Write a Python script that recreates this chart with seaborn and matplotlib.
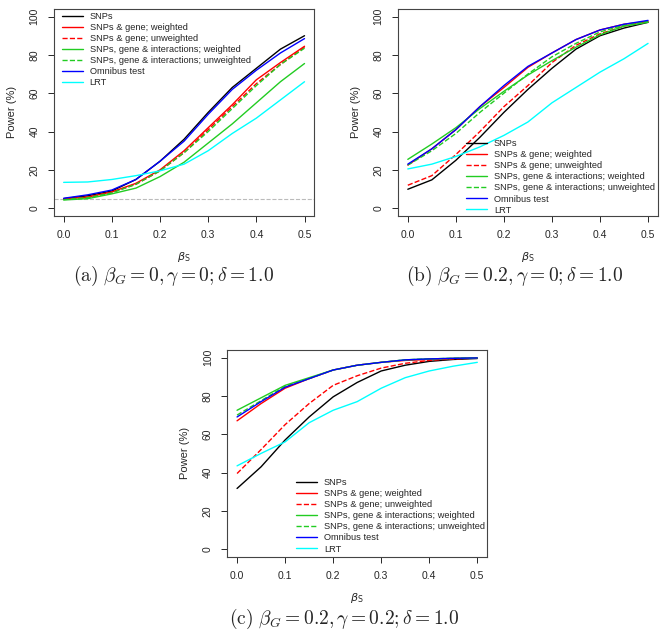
import matplotlib
matplotlib.use("Agg")
import matplotlib.pyplot as plt
import seaborn as sns
import pandas as pd

# effect size of the SNPs
beta_s = [0.0, 0.05, 0.1, 0.15, 0.2, 0.25, 0.3, 0.35, 0.4, 0.45, 0.5]

methods = ['SNPs', 'SNPs & gene; weighted', 'SNPs & gene; unweighted',
           'SNPs, gene & interactions; weighted',
           'SNPs, gene & interactions; unweighted',
           'Omnibus test', 'LRT']
colors = ['black', 'red', 'red', '#22cc22', '#22cc22', 'blue', 'cyan']
styles = ['-', '-', '--', '-', '--', '-', '-']

# panel (a): beta_G = 0, gamma = 0
power_a = {
    'SNPs': [5, 6.5, 9, 15, 24.5, 36, 50, 63, 73, 83, 90],
    'SNPs & gene; weighted': [4.8, 5.8, 8.5, 13, 20, 30, 42, 54, 67, 76, 84.5],
    'SNPs & gene; unweighted': [4.7, 5.7, 8.3, 12.5, 19.5, 29, 41, 53, 65, 75, 84],
    'SNPs, gene & interactions; weighted': [4.3, 5, 7.5, 10.5, 16.5, 24, 34, 44, 55, 66, 75.5],
    'SNPs, gene & interactions; unweighted': [4.5, 5.5, 8, 12.5, 19.5, 29, 40, 52, 64, 75, 83.5],
    'Omnibus test': [5.2, 7, 9.5, 15, 24.5, 35, 49, 62, 72, 81, 88.5],
    'LRT': [13.5, 13.7, 15, 17, 19.5, 23, 30, 39, 47, 56.5, 66],
}

# panel (b): beta_G = 0.2, gamma = 0
power_b = {
    'SNPs': [9.9, 14.8, 25, 37, 50, 62, 73, 83, 90, 94, 97],
    'SNPs & gene; weighted': [22.5, 31, 41, 53, 63, 73.5, 81, 88, 93, 96, 97.5],
    'SNPs & gene; unweighted': [12, 17, 28, 40, 53, 64, 76, 85, 91, 95, 97.5],
    'SNPs, gene & interactions; weighted': [25.5, 33.5, 42, 52, 61, 69.5, 77, 84, 90.5, 95, 97],
    'SNPs, gene & interactions; unweighted': [22.5, 30, 39, 50, 60, 70, 79, 86, 92, 95.5, 97.5],
    'Omnibus test': [23, 31, 41, 53, 64, 74, 81, 88, 93, 96, 98],
    'LRT': [20.5, 23, 27, 32, 38, 45, 55, 63, 71, 78, 86],
}

# panel (c): beta_G = 0.2, gamma = 0.2
power_c = {
    'SNPs': [31.7, 43, 57, 69, 79.5, 87, 93, 96, 98, 99, 99.5],
    'SNPs & gene; weighted': [67, 76, 84, 89, 93.5, 96, 97.5, 98.5, 99, 99.5, 99.7],
    'SNPs & gene; unweighted': [39.5, 52, 65, 76, 85.5, 90.5, 94.5, 97, 98.5, 99.3, 99.7],
    'SNPs, gene & interactions; weighted': [72.5, 79, 85.5, 89.5, 93.5, 96, 97.5, 98.8, 99.3, 99.6, 99.8],
    'SNPs, gene & interactions; unweighted': [70, 77.5, 85, 89, 93.5, 96, 97.5, 98.8, 99.3, 99.6, 99.8],
    'Omnibus test': [69, 77, 84.5, 89, 93.5, 96, 97.5, 98.8, 99.3, 99.6, 99.8],
    'LRT': [43.5, 50, 56, 66, 72.5, 77, 84, 89.5, 93, 95.5, 97.5],
}

captions = [r'$\mathrm{(a)}\ \beta_G = 0, \gamma = 0; \delta = 1.0$',
            r'$\mathrm{(b)}\ \beta_G = 0.2, \gamma = 0; \delta = 1.0$',
            r'$\mathrm{(c)}\ \beta_G = 0.2, \gamma = 0.2; \delta = 1.0$']

sns.set_style('ticks')
plt.rcParams['font.family'] = ['Liberation Sans', 'DejaVu Sans']
plt.rcParams['mathtext.fontset'] = 'dejavusans'

fig = plt.figure(figsize=(6.67, 6.35), dpi=100)

# axes boxes in figure fractions
boxes = [[0.081, 0.660, 0.390, 0.326],
         [0.597, 0.660, 0.389, 0.326],
         [0.341, 0.123, 0.389, 0.326]]
legend_pos = [(0.031, 0.985), (0.263, 0.37), (0.266, 0.38)]
caption_pos = [(174 / 667, 1 - 276 / 635), (515 / 667, 1 - 276 / 635), (344 / 667, 1 - 619 / 635)]

for i, power in enumerate([power_a, power_b, power_c]):
    ax = fig.add_axes(boxes[i])
    rows = []
    for m in methods:
        for x, y in zip(beta_s, power[m]):
            rows.append({'beta': x, 'power': y, 'method': m})
    df = pd.DataFrame(rows)
    for m, c, ls in zip(methods, colors, styles):
        sns.lineplot(x='beta', y='power', data=df[df['method'] == m], color=c,
                     linestyle=ls, lw=1.0, label=m, ax=ax)
    if i == 0:
        ax.axhline(5, color='#bbbbbb', lw=0.8, ls='--', zorder=0)

    ax.set_xlim(-0.02, 0.52)
    ax.set_ylim(-4, 104)
    ax.set_xticks([0.0, 0.1, 0.2, 0.3, 0.4, 0.5])
    ax.set_xticklabels(['0.0', '0.1', '0.2', '0.3', '0.4', '0.5'])
    ax.set_yticks([0, 20, 40, 60, 80, 100])
    ax.tick_params(labelsize=7.5, length=4.5, width=0.7, pad=6)
    for lab in ax.get_yticklabels():
        lab.set_rotation(90)
        lab.set_va('center')
    for sp in ax.spines.values():
        sp.set_linewidth(0.8)
        sp.set_color('#444444')
    ax.set_xlabel(r'$\beta_\mathrm{S}$', fontsize=8, labelpad=7)
    ax.set_ylabel('Power (%)', fontsize=8, labelpad=9)

    leg = ax.legend(loc='upper left', bbox_to_anchor=legend_pos[i], frameon=False,
                    fontsize=6.7, handlelength=2.2, handletextpad=0.75,
                    labelspacing=0.22, borderpad=0, borderaxespad=0)

    fig.text(caption_pos[i][0], caption_pos[i][1], captions[i], ha='center',
             va='center', fontsize=14, math_fontfamily='cm')

fig.savefig('out.png', dpi=100)
